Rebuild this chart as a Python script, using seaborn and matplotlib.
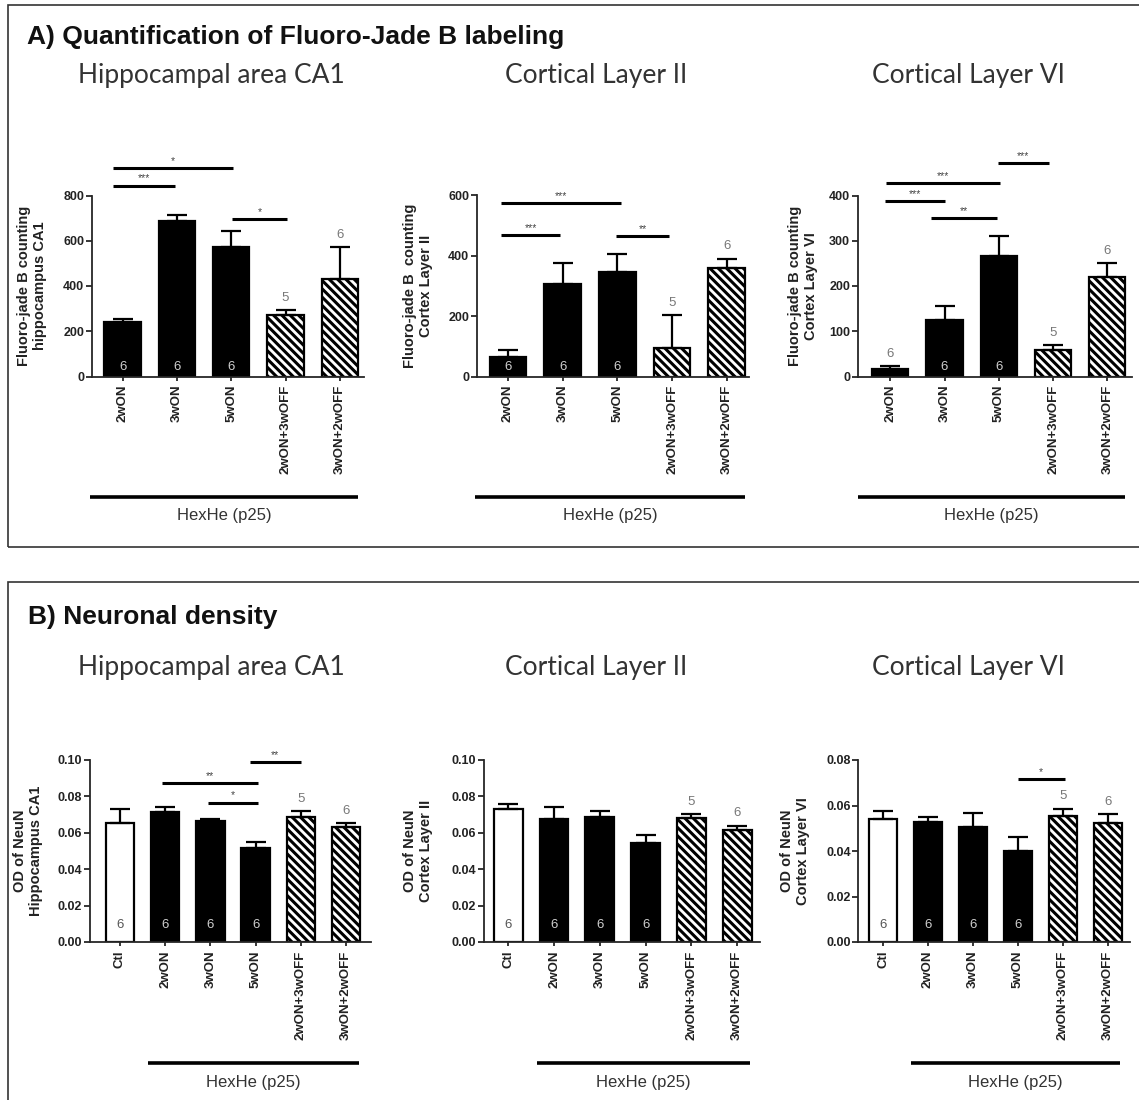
import numpy as np
import matplotlib
matplotlib.use("Agg")
import matplotlib.pyplot as plt
from matplotlib.patches import Rectangle
import seaborn as sns

# ---- values ----
groups_fjb = ["2wON", "3wON", "5wON", "2wON+3wOFF", "3wON+2wOFF"]
groups_neun = ["Ctl", "2wON", "3wON", "5wON", "2wON+3wOFF", "3wON+2wOFF"]

fjb_ca1_mean = [240, 688, 572, 271, 432]
fjb_ca1_sem_top = [255, 714, 642, 293, 572]
fjb_l2_mean = [64, 308, 345, 94, 361]
fjb_l2_sem_top = [87, 376, 407, 203, 391]
fjb_l6_mean = [17.6, 125, 266, 58, 219]
fjb_l6_sem_top = [23, 156, 310, 70, 251]

neun_ca1_mean = [0.0656, 0.0714, 0.0663, 0.0516, 0.0689, 0.0630]
neun_ca1_sem_top = [0.0733, 0.0744, 0.0678, 0.0551, 0.0718, 0.0652]
neun_l2_mean = [0.0729, 0.0674, 0.0687, 0.0544, 0.0683, 0.0617]
neun_l2_sem_top = [0.0760, 0.0740, 0.0722, 0.0588, 0.0703, 0.0639]
neun_l6_mean = [0.0542, 0.0529, 0.0505, 0.0401, 0.0554, 0.0522]
neun_l6_sem_top = [0.0574, 0.0551, 0.0566, 0.0462, 0.0586, 0.0561]

n_fjb = [6, 6, 6, 5, 6]
n_neun = [6, 6, 6, 6, 5, 6]
npos_fjb = ["in", "in", "in", "above", "above"]
npos_fjb_l6 = ["above", "in", "in", "above", "above"]
npos_neun = ["in", "in", "in", "in", "above", "above"]

fill_fjb = ["black", "black", "black", "hatch", "hatch"]
fill_neun = ["white", "black", "black", "black", "hatch", "hatch"]

# significance bars: (from, to, height, label)
sig_fjb_ca1 = [(-0.18, 2.03, 922, "*"), (-0.18, 0.96, 844, "***"), (2.02, 3.03, 696, "*")]
sig_fjb_l2 = [(-0.12, 2.06, 576, "***"), (-0.12, 0.95, 468, "***"), (1.98, 2.95, 465, "**")]
sig_fjb_l6 = [(1.98, 2.93, 472, "***"), (-0.07, 2.03, 427, "***"),
              (-0.09, 1.01, 387, "***"), (0.76, 1.96, 351, "**")]
sig_neun_ca1 = [(2.87, 4.0, 0.0987, "**"), (0.94, 3.05, 0.0875, "**"), (1.95, 3.05, 0.0766, "*")]
sig_neun_l2 = []
sig_neun_l6 = [(3.0, 4.04, 0.0716, "*")]

W, H = 1139, 1100
ARIAL = "Liberation Sans"
CAL = "Lato"

sns.set_style("ticks")
plt.rcParams["font.family"] = [ARIAL, "DejaVu Sans"]
plt.rcParams["hatch.linewidth"] = 2.2

fig = plt.figure(figsize=(W / 100, H / 100), dpi=100)


def px_axes(left, top, width, height):
    return fig.add_axes([left / W, 1 - (top + height) / H, width / W, height / H])


def draw_panel(ax, groups, means, tops, n, npos, fills, ylim, yticks, fmt, ylabel,
               sig, xlim, span, bw, in_off, lab_px, ax_w):
    sns.barplot(x=groups, y=means, ax=ax, color="black", width=bw, errorbar=None,
                saturation=1, edgecolor="black", linewidth=1.6)
    for bar, f in zip(ax.patches, fills):
        if f == "hatch":
            bar.set_facecolor("white")
            bar.set_hatch("\\\\\\\\")
        elif f == "white":
            bar.set_facecolor("white")
    x = np.arange(len(groups))
    m = np.asarray(means, dtype=float)
    t = np.asarray(tops, dtype=float)
    ax.errorbar(x, m, yerr=[np.zeros_like(m), t - m], fmt="none", ecolor="black",
                elinewidth=1.6, capsize=7, capthick=1.6)

    for xi, (cnt, pos, f, top) in enumerate(zip(n, npos, fills, t)):
        if pos == "in":
            col = "#cfcfcf" if f == "black" else "#555555"
            ax.annotate(str(cnt), (xi, 0), xytext=(0, in_off), textcoords="offset points",
                        ha="center", va="bottom", fontsize=9.5, color=col)
        else:
            ax.annotate(str(cnt), (xi, top), xytext=(0, 4.5), textcoords="offset points",
                        ha="center", va="bottom", fontsize=9.5, color="#777777")

    for x0, x1, y, lab in sig:
        ax.plot([x0, x1], [y, y], color="black", lw=2.2, clip_on=False,
                solid_capstyle="butt")
        ax.annotate(lab, ((x0 + x1) / 2, y), xytext=(0, 1.5), textcoords="offset points",
                    ha="center", va="bottom", fontsize=7.5, color="#444444",
                    annotation_clip=False)

    ax.set_xlim(*xlim)
    ax.set_ylim(*ylim)
    ax.set_yticks(yticks)
    ax.set_yticklabels([fmt.format(v) for v in yticks], fontsize=9, fontweight="bold",
                       color="#222222")
    ax.set_xticks(x)
    ax.set_xticklabels(groups, rotation=90, fontsize=9.5, fontweight="bold",
                       color="#222222")
    ax.tick_params(axis="y", direction="out", length=4, width=1.3, pad=1.5)
    ax.tick_params(axis="x", direction="out", length=3, width=1.3, pad=3)
    ax.set_xlabel("")
    ax.set_ylabel(ylabel, fontsize=10.5, fontweight="bold", color="#222222")
    ax.yaxis.set_label_coords(-lab_px / ax_w, 0.5)
    sns.despine(ax=ax)
    for s in ("left", "bottom"):
        ax.spines[s].set_linewidth(1.3)

    # HexHe group line under the tick labels
    trans = ax.get_xaxis_transform()
    ax.plot(span, [-0.663, -0.663], transform=trans, color="black", lw=2.6,
            clip_on=False, solid_capstyle="butt")
    ax.text(sum(span) / 2, -0.77, "HexHe (p25)", transform=trans, ha="center",
            va="center", fontsize=12, color="#333333")


# ---- panel A: Fluoro-Jade B ----
a_top, a_h = 195.5, 181
a_axes = [(91.7, 272.6), (476.7, 272.0), (857.7, 274.0)]
a_specs = [
    (fjb_ca1_mean, fjb_ca1_sem_top, npos_fjb, (0, 800), [0, 200, 400, 600, 800],
     "Fluoro-jade B counting\nhippocampus CA1", sig_fjb_ca1, (-0.57, 4.45), 44.7),
    (fjb_l2_mean, fjb_l2_sem_top, npos_fjb, (0, 600), [0, 200, 400, 600],
     "Fluoro-jade B  counting\nCortex Layer II", sig_fjb_l2, (-0.57, 4.4), 43.7),
    (fjb_l6_mean, fjb_l6_sem_top, npos_fjb_l6, (0, 400), [0, 100, 200, 300, 400],
     "Fluoro-jade B counting\nCortex Layer VI", sig_fjb_l6, (-0.6, 4.45), 39.7),
]
for (left, w), (mean, top, npos, ylim, yt, ylab, sig, xlim, lp) in zip(a_axes, a_specs):
    ax = px_axes(left, a_top, w, a_h)
    draw_panel(ax, groups_fjb, mean, top, n_fjb, npos, fill_fjb, ylim, yt, "{:.0f}",
               ylab, sig, xlim, (-0.6, 4.33), 0.67, 2.5, lp, w)

# ---- panel B: NeuN ----
b_top, b_h = 760, 182
b_axes = [(90.0, 281.0), (484.0, 276.0), (858.3, 272.0)]
b_specs = [
    (neun_ca1_mean, neun_ca1_sem_top, (0, 0.10), [0, 0.02, 0.04, 0.06, 0.08, 0.10],
     "OD of NeuN\nHippocampus CA1", sig_neun_ca1, (-0.66, 5.55), 47),
    (neun_l2_mean, neun_l2_sem_top, (0, 0.10), [0, 0.02, 0.04, 0.06, 0.08, 0.10],
     "OD of NeuN\nCortex Layer II", sig_neun_l2, (-0.53, 5.5), 51),
    (neun_l6_mean, neun_l6_sem_top, (0, 0.08), [0, 0.02, 0.04, 0.06, 0.08],
     "OD of NeuN\nCortex Layer VI", sig_neun_l6, (-0.55, 5.5), 48),
]
for (left, w), (mean, top, ylim, yt, ylab, sig, xlim, lp) in zip(b_axes, b_specs):
    ax = px_axes(left, b_top, w, b_h)
    draw_panel(ax, groups_neun, mean, top, n_neun, npos_neun, fill_neun, ylim, yt,
               "{:.2f}", ylab, sig, xlim, (0.62, 5.28), 0.63, 8, lp, w)

# ---- frames, headings and region titles ----
fig.add_artist(Rectangle((8 / W, 1 - 547 / H), 1.05, (547 - 5) / H,
                         transform=fig.transFigure, fill=False, lw=1.2, ec="#333333"))
fig.add_artist(Rectangle((8 / W, -0.05), 1.05, 0.05 + (H - 582) / H,
                         transform=fig.transFigure, fill=False, lw=1.2, ec="#333333"))

fig.text(27 / W, 1 - 37 / H, "A) Quantification of Fluoro-Jade B labeling",
         fontsize=19, fontweight="bold", va="center", ha="left", color="#111111")
fig.text(28 / W, 1 - 617 / H, "B) Neuronal density",
         fontsize=19, fontweight="bold", va="center", ha="left", color="#111111")

region_titles = ["Hippocampal area CA1", "Cortical Layer II", "Cortical Layer VI"]
title_x = [211, 596, 968]
for y in (76, 668):
    for name, xc in zip(region_titles, title_x):
        fig.text(xc / W, 1 - y / H, name, fontsize=19, family=[CAL, "DejaVu Sans"],
                 ha="center", va="center", color="#333333")

fig.savefig("out.png", dpi=100)
